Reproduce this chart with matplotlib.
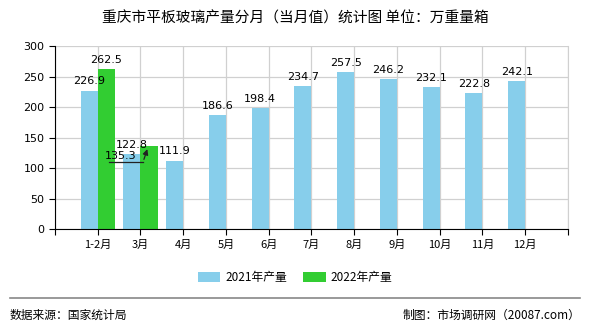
import numpy as np
import matplotlib.pyplot as plt

plt.rcParams['font.family'] = ['Noto Sans CJK SC', 'DejaVu Sans']

# monthly flat glass output, Chongqing (10k weight boxes)
months = ['1-2月', '3月', '4月', '5月', '6月', '7月', '8月', '9月', '10月', '11月', '12月']
output_2021 = [226.9, 122.8, 111.9, 186.6, 198.4, 234.7, 257.5, 246.2, 232.1, 222.8, 242.1]
output_2022 = [262.5, 135.3]

blue = '#87ceeb'
green = '#32cd32'
w = 0.4

fig = plt.figure(figsize=(5.9, 3.3), dpi=100)
ax = fig.add_axes([0.0932, 0.306, 0.8695, 0.5546])

x = np.arange(1, len(months) + 1)
x22 = x[:len(output_2022)]
ax.bar(x - w / 2, output_2021, width=w, color=blue, label='2021年产量', zorder=2)
ax.bar(x22 + w / 2, output_2022, width=w, color=green, label='2022年产量', zorder=2)

# value labels
for xi, v in zip(x, output_2021):
    ax.text(xi - w / 2, v + 7, f'{v}', ha='center', va='bottom', fontsize=8, family='DejaVu Sans')
ax.text(x22[0] + w / 2, output_2022[0] + 7, f'{output_2022[0]}', ha='center', va='bottom',
        fontsize=8, family='DejaVu Sans')

# the March 2022 label is moved aside with a leader line
v = output_2022[1]
ax.text(x22[1] - 0.46, v - 23, f'{v}', ha='center', va='bottom', fontsize=8, family='DejaVu Sans')
ax.plot([x22[1] - 0.74, x22[1] + 0.06], [v - 25.5, v - 25.5], color='#222222', lw=0.9, zorder=3)
ax.annotate('', xy=(x22[1] + 0.18, v), xytext=(x22[1] + 0.06, v - 25.5),
            arrowprops=dict(arrowstyle='-|>', color='#222222', lw=0.9, mutation_scale=8), zorder=3)

ax.set_xlim(0, len(months) + 1)
ax.set_ylim(0, 300)
ax.set_yticks(np.arange(0, 301, 50))
ax.set_xticks(np.arange(0, len(months) + 2))
ax.set_xticklabels([''] + months + [''])
ax.tick_params(axis='both', labelsize=8, length=4, width=0.8, color='black')
for lbl in ax.get_yticklabels():
    lbl.set_family('DejaVu Sans')

ax.grid(True, color='#d0d0d0', lw=0.9, zorder=0)
ax.set_axisbelow(True)
ax.spines['top'].set_visible(False)
ax.spines['right'].set_color('#d0d0d0')
ax.spines['left'].set_color('black')
ax.spines['bottom'].set_color('black')

fig.legend(loc='center', bbox_to_anchor=(0.5, 0.16), ncol=2, frameon=False, fontsize=8.5,
           handlelength=1.9, handleheight=0.9, columnspacing=1.4, handletextpad=0.4)

fig.text(0.5, 0.945, '重庆市平板玻璃产量分月（当月值）统计图 单位：万重量箱', ha='center', va='center',
         fontsize=10.6)

# footer
fig.add_artist(plt.Line2D([0.017, 0.983], [0.097, 0.097], color='#888888', lw=1.2))
fig.text(0.017, 0.045, '数据来源：国家统计局', ha='left', va='center', fontsize=8.5)
fig.text(0.983, 0.045, '制图：市场调研网（20087.com）', ha='right', va='center', fontsize=8.5)

fig.savefig('out.png', dpi=100)
